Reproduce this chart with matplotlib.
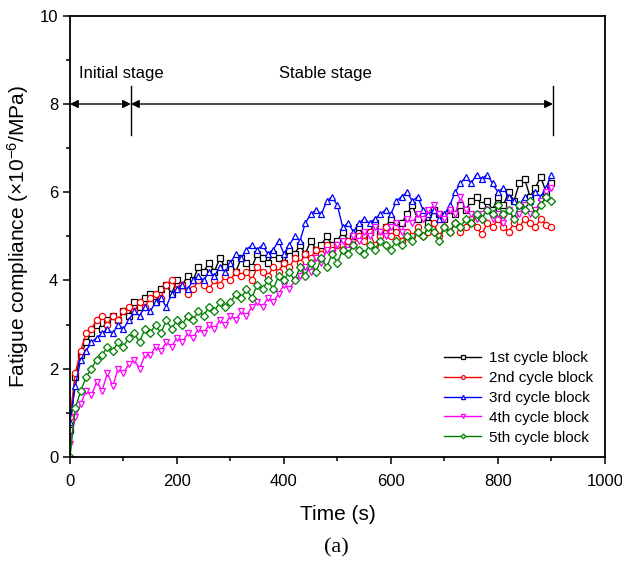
import matplotlib
matplotlib.use('Agg')
import matplotlib.pyplot as plt

plt.rcParams['font.family'] = ['Liberation Sans', 'DejaVu Sans']
plt.rcParams['mathtext.fontset'] = 'custom'
plt.rcParams['mathtext.rm'] = 'Liberation Sans'
plt.rcParams['mathtext.it'] = 'Liberation Sans'

# time (s), sampled every 10 s
time = list(range(0, 910, 10))

block1 = [0.6, 1.8, 2.3, 2.6, 2.8, 3.0, 2.9, 3.1, 3.2, 3.1,
          3.3, 3.2, 3.5, 3.4, 3.6, 3.7, 3.5, 3.8, 3.9, 3.7,
          4.0, 3.9, 4.1, 4.0, 4.3, 4.2, 4.4, 4.2, 4.5, 4.3,
          4.4, 4.2, 4.5, 4.4, 4.3, 4.6, 4.5, 4.4, 4.6, 4.5,
          4.4, 4.7, 4.6, 4.8, 4.6, 4.9, 4.7, 4.8, 5.0, 4.8,
          4.9, 5.1, 4.9, 5.0, 5.2, 5.0, 5.1, 5.3, 5.1, 5.2,
          5.4, 5.2, 5.3, 5.5, 5.7, 5.4, 5.5, 5.3, 5.6, 5.5,
          5.4, 5.6, 5.5, 5.7, 5.6, 5.8, 5.9, 5.7, 5.8, 5.6,
          5.9, 5.7, 6.0, 5.8, 6.2, 6.3, 5.9, 6.1, 6.35, 6.0,
          6.2]

block2 = [0.9, 1.9, 2.4, 2.8, 2.9, 3.1, 3.2, 3.0, 3.2, 3.1,
          3.3, 3.4, 3.3, 3.5, 3.4, 3.6, 3.7, 3.6, 3.9, 4.0,
          3.8, 3.9, 3.7, 3.8, 4.0, 3.9, 3.8, 4.0, 3.9, 4.1,
          4.0, 4.2, 4.1, 4.2, 4.0, 4.3, 4.2, 4.1, 4.3, 4.2,
          4.4, 4.3, 4.5, 4.4, 4.6, 4.5, 4.7, 4.6, 4.8, 4.7,
          4.8, 4.7, 4.9, 4.8, 5.0, 4.9, 5.1, 4.8, 5.0, 5.2,
          5.0, 5.1, 4.9, 5.1, 5.0, 5.2, 5.0, 5.1, 5.3, 5.0,
          5.2, 5.1, 5.3, 5.1, 5.2, 5.4, 5.2, 5.05, 5.3, 5.2,
          5.4, 5.2, 5.1, 5.3, 5.2, 5.4, 5.3, 5.2, 5.4, 5.25,
          5.2]

block3 = [0.8, 1.6, 2.2, 2.4, 2.6, 2.7, 2.8, 2.9, 2.8, 3.0,
          2.9, 3.1, 3.3, 3.2, 3.4, 3.3, 3.5, 3.6, 3.4, 3.7,
          3.8, 3.9, 3.8, 4.0, 4.1, 4.0, 4.2, 4.1, 4.3, 4.2,
          4.4, 4.6, 4.5, 4.7, 4.8, 4.7, 4.8, 4.6, 4.7, 4.9,
          4.6, 4.8, 5.0, 4.9, 5.3, 5.5, 5.6, 5.5, 5.8, 5.9,
          5.7, 5.2, 5.3, 5.1, 5.3, 5.4, 5.3, 5.4, 5.5, 5.6,
          5.5, 5.8, 5.9, 6.0, 5.8, 5.9, 5.6, 5.5, 5.6, 5.4,
          5.5, 5.7, 6.0, 6.2, 6.35, 6.2, 6.4, 6.3, 6.4, 6.2,
          6.0, 6.1, 5.9, 5.8, 5.7, 5.9, 5.8, 6.0, 5.9, 6.1,
          6.4]

block4 = [0.3, 0.9, 1.2, 1.5, 1.4, 1.7, 1.5, 1.9, 1.6, 2.0,
          1.9, 2.1, 2.2, 2.0, 2.3, 2.3, 2.5, 2.4, 2.6, 2.5,
          2.7, 2.6, 2.8, 2.7, 2.9, 2.8, 3.0, 2.9, 3.1, 3.0,
          3.2, 3.1, 3.3, 3.2, 3.4, 3.5, 3.4, 3.6, 3.5, 3.7,
          3.9, 3.8, 4.0, 4.1, 4.3, 4.2, 4.5, 4.4, 4.7, 4.6,
          4.8, 4.9, 4.7, 5.0, 4.9, 5.1, 5.0, 5.2, 5.1, 5.0,
          5.2, 5.3, 5.1, 5.4, 5.3, 5.5, 5.4, 5.6, 5.7, 5.5,
          5.4, 5.6, 5.5, 5.9, 5.6, 5.5, 5.4, 5.5, 5.6, 5.4,
          5.5, 5.3, 5.6, 5.4, 5.5, 5.7, 5.5, 5.6, 5.8, 6.0,
          6.1]

block5 = [0.0, 1.1, 1.5, 1.8, 2.0, 2.2, 2.3, 2.5, 2.4, 2.6,
          2.5, 2.7, 2.8, 2.6, 2.9, 2.8, 3.0, 2.8, 3.1, 2.9,
          3.1, 3.0, 3.2, 3.1, 3.3, 3.2, 3.4, 3.3, 3.5, 3.4,
          3.5, 3.7, 3.6, 3.8, 3.6, 3.9, 3.8, 4.0, 3.8, 4.1,
          4.0, 4.2, 4.0, 4.3, 4.1, 4.4, 4.2, 4.5, 4.3, 4.6,
          4.4, 4.7, 4.6, 4.8, 4.7, 4.6, 4.8, 4.7, 4.9, 4.8,
          4.7, 4.9, 4.8, 5.0, 4.9, 5.1, 5.0, 5.2, 5.1, 4.9,
          5.2, 5.1, 5.3, 5.2, 5.4, 5.3, 5.5, 5.4, 5.6, 5.5,
          5.7, 5.5, 5.6, 5.4, 5.7, 5.6, 5.8, 5.5, 5.7, 5.9,
          5.8]

labels = ['1st cycle block', '2nd cycle block', '3rd cycle block',
          '4th cycle block', '5th cycle block']
colors = ['black', '#ff0000', '#0000ff', '#ff00ff', '#008000']
markers = ['s', 'o', '^', 'v', 'D']
sizes = [4, 4.5, 5, 5, 4]

fig = plt.figure(figsize=(6.22, 5.64), dpi=100)
ax = fig.add_axes([0.1125, 0.19, 0.86, 0.782])

for ys, lab, c, m, ms in zip([block1, block2, block3, block4, block5],
                             labels, colors, markers, sizes):
    ax.plot(time, ys, color=c, lw=1.0, marker=m, markersize=ms,
            markerfacecolor='white', markeredgecolor=c, markeredgewidth=0.9,
            label=lab)

ax.set_xlim(0, 1000)
ax.set_ylim(0, 10)
ax.set_xticks(range(0, 1001, 200))
ax.set_xticks(range(100, 1000, 200), minor=True)
ax.set_yticks(range(0, 11, 2))
ax.set_yticks(range(1, 10, 2), minor=True)
ax.tick_params(which='major', direction='out', length=5, width=1.1, labelsize=12,
               top=False, right=False)
ax.tick_params(axis='x', which='major', pad=7)
ax.tick_params(which='minor', direction='out', length=3, width=1.1,
               top=False, right=False)
for sp in ax.spines.values():
    sp.set_linewidth(1.3)

ax.set_xlabel('Time (s)', fontsize=15, labelpad=12)
ax.set_ylabel('Fatigue compliance (\u00d710$^{-6}$/MPa)', fontsize=15, labelpad=6)

# stage annotations
ap = dict(arrowstyle='<|-|>', color='black', lw=1.0, mutation_scale=12,
          shrinkA=0, shrinkB=0)
ax.annotate('', xy=(0, 8), xytext=(114, 8), arrowprops=ap)
ax.annotate('', xy=(114, 8), xytext=(903, 8), arrowprops=ap)
ax.plot([114, 114], [7.3, 8.4], color='black', lw=1.0)
ax.plot([903, 903], [7.3, 8.4], color='black', lw=1.0)
ax.text(96, 8.7, 'Initial stage', ha='center', va='center', fontsize=12)
ax.text(477, 8.7, 'Stable stage', ha='center', va='center', fontsize=12)

ax.legend(loc='lower right', frameon=False, fontsize=11, handlelength=2.4,
          labelspacing=0.38, borderaxespad=0.4, handletextpad=0.5,
          markerscale=0.6)

fig.text(0.54, 0.028, '(a)', ha='center', va='center', fontsize=16,
         family='Liberation Serif')

fig.savefig('out.png', dpi=100)
